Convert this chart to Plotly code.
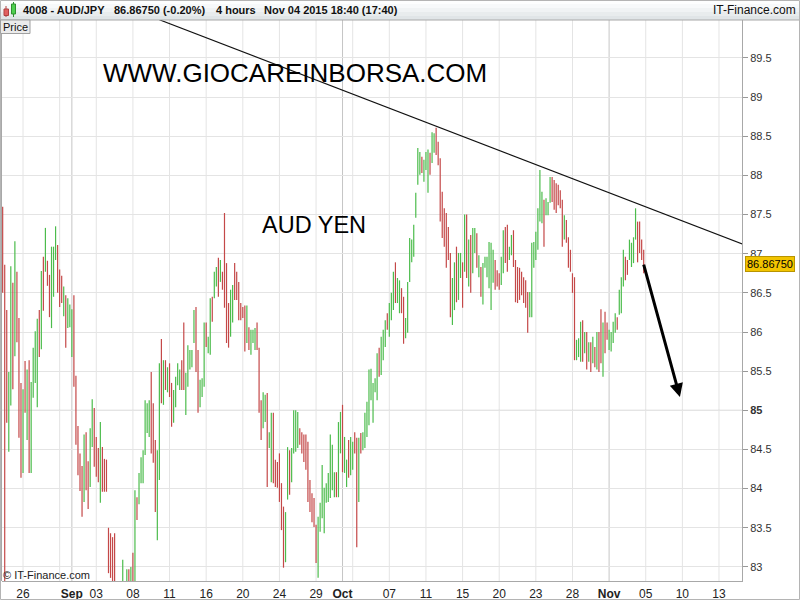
import plotly.graph_objects as go

# ---------------- DATA (4-hour bars, AUD/JPY) ----------------
FIRST_BAR = 2  # bar index of first bar (6 bars per trading day, day 0 = Aug 24)

highs_a = [87.60, 86.86, 86.28, 85.49, 86.84, 86.63, 87.16, 86.77, 86.18, 85.35,
           85.27, 85.63, 85.52, 85.64, 85.36, 85.80, 86.01, 86.17, 86.28, 86.78,
           86.96, 87.33, 86.91, 86.73, 87.09, 87.09, 87.35, 87.11, 86.80, 86.72,
           86.58, 86.47, 86.43, 86.35, 86.29, 86.47, 85.44, 84.80, 84.45, 84.29,
           84.69, 84.72, 84.35, 84.77, 85.14, 85.03, 84.66, 84.52, 84.85, 84.53,
           84.38, 84.37]
lows_a = [86.50, 82.50, 84.84, 84.47, 85.06, 85.27, 85.69, 85.87, 84.65, 84.14,
          84.20, 84.97, 84.62, 84.20, 84.20, 85.16, 85.35, 85.04, 85.68, 85.78,
          86.27, 86.77, 86.59, 86.19, 86.05, 86.45, 86.92, 86.50, 86.32, 86.37,
          86.20, 85.80, 86.05, 86.06, 85.68, 85.30, 84.56, 84.17, 83.97, 83.64,
          83.83, 83.98, 83.74, 84.02, 84.53, 84.28, 84.15, 84.08, 83.82, 83.96,
          83.96, 83.96]
dirs_a = "RRRGGRGRRR" "GRGRGGGGRG" "RGRRGGGRRR" "GRGGGRRRRR" "GRRGGRRRGR" "RR"

highs_b = [83.50, 83.43, 83.38, 83.43, 82.75, 82.70, 82.78, 83.09, 82.80, 82.97,
           82.97, 83.00, 83.18]
lows_b = [82.92, 82.86, 82.75, 82.70, 82.40, 82.30, 82.45, 82.50, 82.45, 82.55,
          82.60, 82.55, 82.60]
dirs_b = "RRRRRGRGRGRGR"

highs_c = [83.98, 83.89, 84.20, 84.40, 84.49, 85.13, 85.09, 85.13, 85.49, 85.09,
           84.62, 84.49, 85.60, 85.91, 85.64, 85.64, 85.55, 85.60, 85.35, 85.26,
           85.43, 85.60, 85.52, 85.64, 86.12, 85.48, 85.83, 85.77, 85.77, 86.28,
           86.32, 85.77, 85.39, 85.41, 86.12, 86.12, 85.94, 86.43, 86.45, 86.77,
           86.83, 86.95, 86.92, 86.77, 87.52, 86.88, 86.37, 86.54, 86.60, 86.88,
           86.77, 86.64, 86.37, 86.32, 86.34, 86.34, 86.06, 86.03, 86.03, 86.05,
           86.12, 85.80, 85.13, 85.23, 85.20, 85.22]
lows_c = [82.70, 83.60, 83.80, 84.07, 84.07, 84.43, 84.71, 84.66, 84.45, 84.33,
          83.70, 83.34, 84.11, 85.09, 85.07, 85.26, 85.23, 85.17, 84.79, 84.84,
          85.04, 85.32, 85.26, 85.26, 85.26, 84.94, 85.30, 85.52, 85.55, 85.86,
          85.49, 84.97, 85.04, 85.17, 85.30, 85.81, 85.73, 85.71, 86.13, 86.43,
          86.58, 86.45, 86.64, 86.54, 86.31, 85.86, 85.80, 85.94, 86.12, 86.41,
          86.41, 86.15, 86.15, 86.18, 85.75, 85.86, 85.77, 85.71, 85.86, 85.77,
          85.77, 84.97, 84.62, 84.77, 84.85, 84.02]
dirs_c = "GRGGGGGGRR" "RGGRGRGRRG" "GGGRRGGGGG" "RRGGGRGGRG" "GRGRRRRGGR" "RRRRRGRGGG" "RRRGGR"

highs_d = [84.72, 84.97, 84.97, 84.37, 84.34, 84.45, 84.07, 83.77, 83.70, 84.53,
           84.49, 84.52, 85.00, 85.00, 84.98, 84.77, 84.72, 84.69, 84.69, 84.60,
           84.11, 83.94, 83.88, 83.54, 83.64, 83.82, 84.30, 84.01, 84.07, 84.20,
           84.69, 84.56, 84.21, 84.21, 84.85, 84.98, 85.07, 84.66, 84.37, 84.62,
           84.66, 84.60, 84.72, 84.65, 84.65, 84.71, 84.72, 84.97, 85.11, 85.52,
           85.53, 85.35, 85.41, 85.73, 85.80, 85.94, 86.03, 86.15, 86.24, 86.37,
           86.50, 86.77, 86.89, 86.69]
lows_d = [84.52, 84.08, 84.07, 84.02, 84.01, 83.83, 83.47, 82.99, 83.06, 83.86,
          83.92, 84.08, 84.45, 84.47, 84.52, 84.56, 84.45, 84.34, 84.24, 83.83,
          83.70, 83.57, 83.51, 83.05, 82.86, 83.45, 83.62, 83.43, 83.82, 83.83,
          83.88, 83.98, 83.89, 83.89, 83.89, 84.45, 84.21, 84.20, 84.02, 84.14,
          84.17, 84.24, 84.45, 83.25, 83.83, 84.45, 84.49, 84.52, 84.66, 84.81,
          85.13, 84.84, 85.23, 85.13, 85.43, 85.45, 85.64, 85.81, 86.03, 85.94,
          86.15, 86.28, 86.37, 86.37]
dirs_d = "GGRRRRRRGG" "RGGGGRRRRR" "RRRRGGGGGG" "GGGRGGRGGR" "GGRRGRGGGG" "GGGGRGGGRG" "GGRG"

highs_e = [86.66, 86.56, 86.45, 86.18, 86.64, 87.20, 87.18, 87.37, 87.78, 88.35,
           88.30, 88.24, 88.20, 88.30, 88.33, 88.29, 88.55, 88.54, 88.61, 88.43,
           88.22, 87.79, 87.58, 87.52, 87.34, 87.01, 86.69, 86.89, 87.09, 87.01,
           87.01, 86.89, 87.50, 87.50, 87.18, 87.24, 87.33, 87.33, 87.26, 86.98,
           86.83, 86.88, 86.96, 86.96, 87.15, 87.14, 87.05, 86.92, 86.79, 86.75,
           86.96, 87.30, 87.34, 87.37, 87.09, 87.24, 87.30, 86.92, 86.83, 86.82,
           86.77, 86.70, 86.66, 86.51]
lows_e = [86.24, 86.24, 85.85, 85.92, 85.99, 86.64, 86.89, 86.96, 87.46, 87.88,
          88.01, 88.03, 87.92, 88.07, 87.78, 88.01, 88.16, 88.29, 88.26, 88.13,
          87.41, 87.20, 87.09, 86.82, 86.92, 86.19, 86.09, 86.28, 86.38, 86.41,
          86.69, 86.31, 86.77, 86.69, 86.58, 86.50, 86.75, 87.01, 86.82, 86.70,
          86.45, 86.35, 86.82, 86.70, 86.56, 86.28, 86.63, 86.54, 86.58, 86.54,
          86.60, 86.75, 86.88, 86.77, 86.92, 86.98, 86.83, 86.38, 86.37, 86.41,
          86.47, 86.37, 86.31, 85.99]
dirs_e = "GRRGGGGGGG" "GRGGGRGGRR" "RRRRRRGGRG" "GRGRGRGGRG" "RGGGGGGRRR" "GGRRGGRRRR" "RRRR"

highs_f = [86.51, 87.14, 87.15, 87.28, 87.58, 88.07, 87.79, 87.69, 87.71, 87.66,
           87.98, 87.98, 87.94, 87.90, 87.88, 87.81, 87.69, 87.49, 87.43, 87.21,
           87.05, 86.75, 86.70, 85.90, 85.92, 86.13, 86.15, 86.00, 86.00, 85.87,
           85.87, 85.94, 85.81, 86.00, 86.00, 86.29, 86.12, 86.26, 86.12, 86.03,
           86.00, 86.13, 86.24, 86.19, 86.54, 86.70, 87.05, 86.96, 86.92, 87.18,
           87.14, 87.21, 87.58, 87.41, 87.41, 87.18, 87.05]
lows_f = [86.19, 86.19, 86.82, 86.92, 87.05, 87.41, 87.39, 87.09, 87.49, 87.49,
          87.65, 87.66, 87.56, 87.52, 87.62, 87.58, 87.09, 87.18, 87.14, 86.82,
          86.77, 86.50, 85.64, 85.64, 85.68, 85.62, 85.62, 85.73, 85.52, 85.62,
          85.49, 85.60, 85.55, 85.52, 85.49, 85.60, 85.43, 85.73, 85.90, 85.77,
          85.75, 85.86, 85.99, 86.03, 86.22, 86.24, 86.58, 86.66, 86.73, 86.92,
          86.83, 86.88, 87.18, 86.89, 87.01, 86.92, 86.75]
dirs_f = "GGGGGGGRGG" "GRRRRRRGRR" "RRRGGGRGRG" "RGRGRRGRRG" "GGGRGGGRRG" "GGGRRRR"

highs = highs_a + highs_b + highs_c + highs_d + highs_e + highs_f
lows = lows_a + lows_b + lows_c + lows_d + lows_e + lows_f
dirs = dirs_a + dirs_b + dirs_c + dirs_d + dirs_e + dirs_f

last_price = 86.8675
last_change_pct = -0.20

# axis ticks (bar index positions)
x_tick_vals = [12, 36, 48, 66, 84, 102, 120, 138, 156, 169, 192, 210, 228, 246,
               264, 282, 300, 318, 336, 354]
x_tick_text = ["26", "Sep", "03", "08", "11", "16", "20", "24", "29", "Oct", "07",
               "11", "15", "20", "23", "28", "Nov", "05", "10", "13"]
month_names = ["Sep", "Oct", "Nov"]
day_grid_bars = [12, 30, 48, 66, 84, 102, 120, 138, 156, 174, 192, 210, 228, 246,
                 264, 282, 318, 336, 354]
month_grid_bars = [36, 169, 300]
y_tick_vals = [83.0, 83.5, 84.0, 84.5, 85.0, 85.5, 86.0, 86.5, 87.0, 87.5, 88.0,
               88.5, 89.0, 89.5]
y_bold_tick = 85.0

# drawn trend line and arrow
trend_x = [79, 366]
trend_y = [89.988, 87.118]
arrow_from = (316.8, 86.88)
arrow_to = (334.8, 85.17)

# ---------------- LAYOUT HELPERS ----------------
W, H = 800, 600
L, R, T, B = 2, 742, 20, 581
X_RANGE = [(L + 1.4) / 2.035, (R + 1.4) / 2.035]
Y_RANGE = [82.82, 89.985]
FONT = "Liberation Sans, Arial, sans-serif"
UP = "#4cbc4c"
DN = "#c44848"


def px(x):
    return (x - L) / (R - L)


def py(y):
    return (B - y) / (B - T)


# ---------------- TRACES ----------------
xu, yu, xd, yd = [], [], [], []
for k, (h, l, d) in enumerate(zip(highs, lows, dirs)):
    x = FIRST_BAR + k
    if d == "G":
        xu += [x, x, None]
        yu += [l, h, None]
    else:
        xd += [x, x, None]
        yd += [l, h, None]

fig = go.Figure()
fig.add_trace(go.Scatter(x=xu, y=yu, mode="lines", line=dict(color=UP, width=1.2),
                         hoverinfo="skip", showlegend=False))
fig.add_trace(go.Scatter(x=xd, y=yd, mode="lines", line=dict(color=DN, width=1.2),
                         hoverinfo="skip", showlegend=False))
fig.add_trace(go.Scatter(x=trend_x, y=trend_y, mode="lines",
                         line=dict(color="#111111", width=1.2),
                         hoverinfo="skip", showlegend=False))

# ---------------- SHAPES ----------------
shapes = []
for b in day_grid_bars:
    shapes.append(dict(type="line", xref="x", yref="paper", x0=b, x1=b, y0=0, y1=1,
                       line=dict(color="#e4e4e4", width=1), layer="below"))
for b in month_grid_bars:
    shapes.append(dict(type="line", xref="x", yref="paper", x0=b, x1=b, y0=0, y1=1,
                       line=dict(color="#c6c6c6", width=1), layer="below"))
shapes.append(dict(type="line", xref="paper", yref="y", x0=0, x1=1, y0=y_bold_tick,
                   y1=y_bold_tick, line=dict(color="#c6c6c6", width=1), layer="below"))

# header gradient bands
band_cols = ["#fdfefe", "#f7f9fa", "#f0f3f4", "#e8eced", "#e0e5e7"]
for j, c in enumerate(band_cols):
    shapes.append(dict(type="rect", xref="paper", yref="paper",
                       x0=px(0), x1=px(800), y0=py(4 * (j + 1)), y1=py(4 * j),
                       fillcolor=c, line=dict(width=0), layer="above"))
shapes.append(dict(type="line", xref="paper", yref="paper", x0=px(0), x1=px(800),
                   y0=py(20), y1=py(20), line=dict(color="#a8a8a8", width=1)))
# outer frame
shapes.append(dict(type="rect", xref="paper", yref="paper", x0=px(0.5), x1=px(799.5),
                   y0=py(599.5), y1=py(0.5), line=dict(color="#b4b4b4", width=1)))
# left border of plot
shapes.append(dict(type="line", xref="paper", yref="paper", x0=px(1.5), x1=px(1.5),
                   y0=0, y1=1, line=dict(color="#a8a8a8", width=1)))
# "Price" tab
shapes.append(dict(type="rect", xref="paper", yref="paper", x0=px(0.5), x1=px(30),
                   y0=py(33.5), y1=py(20), fillcolor="#ebebeb",
                   line=dict(color="#a0a0a0", width=1)))
# small header icon (two candles)
shapes += [
    dict(type="line", xref="paper", yref="paper", x0=px(6), x1=px(6), y0=py(17),
         y1=py(6), line=dict(color="#b04040", width=1)),
    dict(type="rect", xref="paper", yref="paper", x0=px(4), x1=px(8.5), y0=py(15.5),
         y1=py(9), fillcolor="#e06060", line=dict(color="#b04040", width=1)),
    dict(type="line", xref="paper", yref="paper", x0=px(13.5), x1=px(13.5), y0=py(17),
         y1=py(2), line=dict(color="#309030", width=1)),
    dict(type="rect", xref="paper", yref="paper", x0=px(11.5), x1=px(15.5), y0=py(14),
         y1=py(4), fillcolor="#50d050", line=dict(color="#309030", width=1)),
]

# ---------------- ANNOTATIONS ----------------
ann = []
hdr_y = py(10)
hdr_font = dict(family=FONT, size=11, color="#111111")
ann.append(dict(xref="paper", yref="paper", x=px(21), y=hdr_y, xanchor="left",
                yanchor="middle", showarrow=False, text="<b>4008 - AUD/JPY</b>",
                font=hdr_font))
ann.append(dict(xref="paper", yref="paper", x=px(112), y=hdr_y, xanchor="left",
                yanchor="middle", showarrow=False,
                text=f"<b>{last_price:.5f} ({last_change_pct:.2f}%)</b>", font=hdr_font))
ann.append(dict(xref="paper", yref="paper", x=px(214), y=hdr_y, xanchor="left",
                yanchor="middle", showarrow=False, text="<b>4 hours</b>", font=hdr_font))
ann.append(dict(xref="paper", yref="paper", x=px(262), y=hdr_y, xanchor="left",
                yanchor="middle", showarrow=False,
                text="<b>Nov 04 2015 18:40 (17:40)</b>", font=hdr_font))
ann.append(dict(xref="paper", yref="paper", x=px(798), y=hdr_y, xanchor="right",
                yanchor="middle", showarrow=False, text="IT-Finance.com",
                font=dict(family=FONT, size=12, color="#111111")))
ann.append(dict(xref="paper", yref="paper", x=px(1), y=py(27), xanchor="left",
                yanchor="middle", showarrow=False, text="Price",
                font=dict(family=FONT, size=11, color="#111111")))
ann.append(dict(xref="paper", yref="paper", x=px(1), y=py(575), xanchor="left",
                yanchor="middle", showarrow=False, text="© IT-Finance.com",
                font=dict(family=FONT, size=11, color="#222222")))
ann.append(dict(xref="paper", yref="paper", x=px(101), y=py(73), xanchor="left",
                yanchor="middle", showarrow=False, text="WWW.GIOCAREINBORSA.COM",
                font=dict(family=FONT, size=26, color="#000000")))
ann.append(dict(xref="paper", yref="paper", x=px(260), y=py(225), xanchor="left",
                yanchor="middle", showarrow=False, text="AUD YEN",
                font=dict(family=FONT, size=23.5, color="#000000")))
# last price tag
ann.append(dict(xref="paper", yref="y", x=px(745), y=last_price, xanchor="left",
                yanchor="middle", showarrow=False, text=f"{last_price:.5f}",
                bgcolor="#f2c400", bordercolor="#b89400", borderwidth=1, borderpad=1,
                font=dict(family=FONT, size=11, color="#000000")))
# drawn arrow
ann.append(dict(xref="x", yref="y", axref="x", ayref="y", x=arrow_to[0], y=arrow_to[1],
                ax=arrow_from[0], ay=arrow_from[1], text="", showarrow=True,
                arrowhead=2, arrowsize=0.9, arrowwidth=3, arrowcolor="#000000"))

# ---------------- LAYOUT ----------------
fig.update_layout(
    width=W, height=H,
    margin=dict(l=L, r=W - R, t=T, b=H - B, autoexpand=False),
    paper_bgcolor="#ffffff", plot_bgcolor="#ffffff",
    font=dict(family=FONT, size=11, color="#222222"),
    showlegend=False,
    shapes=shapes,
    annotations=ann,
    xaxis=dict(range=X_RANGE, showgrid=False, zeroline=False, automargin=False,
               tickmode="array", tickvals=x_tick_vals,
               ticktext=[f"<b>{t}</b>" if t in month_names else t for t in x_tick_text],
               ticks="outside", ticklen=2, tickcolor="rgba(0,0,0,0)",
               tickfont=dict(family=FONT, size=12, color="#222222"),
               showline=True, linecolor="#a8a8a8", linewidth=1, fixedrange=True),
    yaxis=dict(range=Y_RANGE, side="right", zeroline=False, automargin=False,
               tickmode="array", tickvals=y_tick_vals,
               ticktext=[f"<b>{v:g}</b>" if v == y_bold_tick else f"{v:g}" for v in y_tick_vals],
               showgrid=True, gridcolor="#e4e4e4", gridwidth=1,
               ticks="outside", ticklen=5, tickcolor="#999999",
               tickfont=dict(family=FONT, size=11, color="#333333"),
               showline=True, linecolor="#a8a8a8", linewidth=1, fixedrange=True),
)

fig.write_html("out.html", config={"displayModeBar": False},
               post_script="document.body.style.margin='0px';document.body.style.padding='0px';")
